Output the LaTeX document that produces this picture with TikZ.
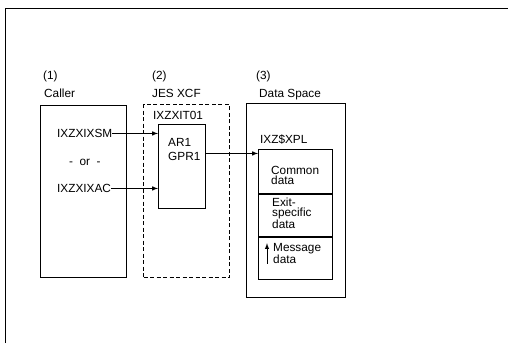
\documentclass[tikz,border=0pt]{standalone}
\usepackage{fontspec}
\setmainfont{Liberation Sans}
\usetikzlibrary{positioning, calc, arrows}

\begin{document}
\begin{tikzpicture}[x=1pt, y=-1pt,
                label/.style={inner sep=0pt, anchor=base west, font=\fontsize{11.8}{10.5}\selectfont, align=left},
                box/.style={rectangle, draw, line width=1pt, inner sep=0pt, anchor=north west},
                dbox/.style={box, dash pattern=on 4pt off 2.5pt},
                paths/.style={line width=1pt, -latex}
            ]
                \useasboundingbox (0,0) rectangle (508,343);
                % Frame
                \draw[line width=1pt] (5,343) -- (5,8) -- (508,8);

                % Boxes
                \node[box, minimum width=86, minimum height=172] (caller) at (40,105) {};
                \node[dbox, minimum width=86, minimum height=173] (xcf) at (143,104) {};
                \node[box, minimum width=47, minimum height=84] (regs) at (158,124) {};
                \node[box, minimum width=99, minimum height=194] (space) at (246,103) {};
                \node[box, minimum width=74, minimum height=44] (common) at (258,149) {};
                \node[box, minimum width=74, minimum height=42, below = 0pt of common.south west, anchor=north west] (exit) {};
                \node[box, minimum width=74, minimum height=42, below = 0pt of exit.south west, anchor=north west] (message) {};

                % Headings
                \node[label] (n1) at (43,79) {(1)};
                \node[label] (callerlbl) at (44,97) {Caller};
                \node[label] (n2) at (152,79) {(2)};
                \node[label] (xcflbl) at (152,97) {JES XCF};
                \node[label] (n3) at (256,79) {(3)};
                \node[label] (spacelbl) at (259,97) {Data Space};

                % Texts (multi-line ones sit on their last line)
                \node[label] (ixsm) at (57,137.5) {IXZXIXSM};
                \node[label] (or) at (69,165) {-\ \ or\ \ -};
                \node[label] (ixac) at (57,192.5) {IXZXIXAC};
                \node[label] (exitname) at (153,119) {IXZXIT01};
                \node[label] (ar) at (168,146.5) {AR1};
                \node[label] (gpr) at (168,160.5) {GPR1};
                \node[label] (xpl) at (260,143.5) {IXZ\$XPL};
                \node[label] (commonlbl) at (271,184.5) {Common\\data};
                \node[label] (exitlbl) at (272,228.5) {Exit-\\specific\\data};
                \node[label] (msglbl) at (273,263.5) {Message\\data};

                % Paths
                \draw[paths] (ixsm.east) -- (ixsm.east -| regs.west);
                \draw[paths] (ixac.east) -- (ixac.east -| regs.west);
                \draw[paths] ([yshift=3pt]gpr.east -| regs.east) -- ([yshift=3pt]gpr.east -| common.west);
                \draw[paths] ([xshift=-6pt]msglbl.south west) -- ([xshift=-6pt]msglbl.north west);
            \end{tikzpicture}
\end{document}
